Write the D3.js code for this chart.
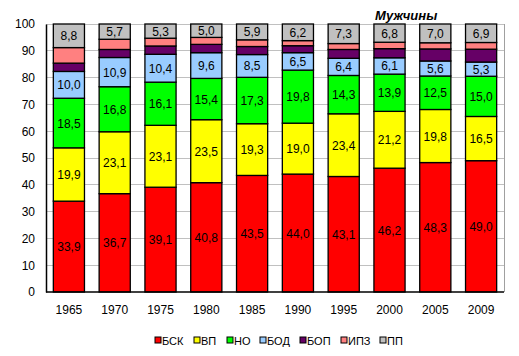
<!DOCTYPE html>
<html><head><meta charset="utf-8">
<script src="https://cdn.jsdelivr.net/npm/d3@7"></script>
<style>body{margin:0;background:#fff}svg{display:block;font-family:"Liberation Sans",Arial,sans-serif}</style>
</head><body>
<svg id="c" width="519" height="356"></svg>
<script>
const years = ["1965","1970","1975","1980","1985","1990","1995","2000","2005","2009"];
const seriesNames = ["БСК","ВП","НО","БОД","БОП","ИПЗ","ПП"];
const bsk = [33.9,36.7,39.1,40.8,43.5,44.0,43.1,46.2,48.3,49.0];
const vp  = [19.9,23.1,23.1,23.5,19.3,19.0,23.4,21.2,19.8,16.5];
const no  = [18.5,16.8,16.1,15.4,17.3,19.8,14.3,13.9,12.5,15.0];
const bod = [10.0,10.9,10.4,9.6,8.5,6.5,6.4,6.1,5.6,5.3];
const bop = [3.1,3.0,3.1,3.1,3.0,2.6,3.3,3.4,4.5,4.8];
const ipz = [5.8,3.8,2.9,2.6,2.5,1.9,2.2,2.4,2.3,2.5];
const pp  = [8.8,5.7,5.3,5.0,5.9,6.2,7.3,6.8,7.0,6.9];
const yTicks = [0,10,20,30,40,50,60,70,80,90,100];
const title = "Мужчины";
const colors = ["#FF0000","#FFFF00","#00FF00","#99CCFF","#660066","#FF8080","#C0C0C0"];
const showLabel = [true,true,true,true,false,false,true];

const values = [bsk,vp,no,bod,bop,ipz,pp];
const rows = years.map((y,i)=>{const r={year:y}; seriesNames.forEach((s,j)=>r[s]=values[j][i]); return r;});
const stack = d3.stack().keys(seriesNames)(rows);

const svg = d3.select("#c");
const L=46,R=504,T=24,B=292;
const x = d3.scaleBand().domain(years).range([L,R]).paddingInner(0.32).paddingOuter(0.16);
const y = d3.scaleLinear().domain([0,100]).range([B,T]);

// gridlines
svg.append("g").selectAll("line").data(yTicks.slice(1)).join("line")
  .attr("x1",L).attr("x2",R).attr("y1",d=>y(d)).attr("y2",d=>y(d))
  .attr("stroke","#c0c0c0").attr("stroke-width",1).attr("shape-rendering","crispEdges");
// right border
svg.append("line").attr("x1",R).attr("x2",R).attr("y1",T).attr("y2",B)
  .attr("stroke","#a0a0a0").attr("shape-rendering","crispEdges");

// bars
const g = svg.append("g");
stack.forEach((layer,li)=>{
  g.append("g").selectAll("rect").data(layer).join("rect")
    .attr("x",d=>x(d.data.year)).attr("width",x.bandwidth())
    .attr("y",d=>y(d[1])).attr("height",d=>y(d[0])-y(d[1]))
    .attr("fill",colors[li]).attr("stroke","#000").attr("stroke-width",1.3);
});
stack.forEach((layer,li)=>{
  if(!showLabel[li]) return;
  g.append("g").selectAll("text").data(layer).join("text")
    .attr("x",d=>x(d.data.year)+x.bandwidth()/2)
    .attr("y",d=>(y(d[0])+y(d[1]))/2+4.5)
    .attr("text-anchor","middle").attr("font-size",12).attr("fill","#000")
    .text(d=>d3.format(".1f")(d[1]-d[0]).replace(".",","));
});

// axes
const ya = d3.axisLeft(y).tickValues(yTicks).tickSize(0).tickPadding(11);
const yg = svg.append("g").attr("transform",`translate(${L},0)`).call(ya);
yg.select(".domain").attr("stroke","#000").attr("stroke-width",1.5);
yg.selectAll("text").attr("font-size",12).attr("font-family","Liberation Sans, Arial, sans-serif").attr("fill","#000");
const xa = d3.axisBottom(x).tickSize(0).tickPadding(13);
const xg = svg.append("g").attr("transform",`translate(0,${B})`).call(xa);
xg.select(".domain").attr("stroke","#000").attr("stroke-width",1.5).attr("d",`M${L},0H${R}`);
xg.selectAll("text").attr("font-size",12).attr("font-family","Liberation Sans, Arial, sans-serif").attr("fill","#000");

// title
svg.append("text").attr("x",375).attr("y",20).attr("font-size",13).attr("font-weight","bold")
  .attr("font-style","italic").text(title);

// legend
const lx = [155,194,227,260,300,341,380];
const lg = svg.append("g");
seriesNames.forEach((s,i)=>{
  lg.append("rect").attr("x",lx[i]).attr("y",337).attr("width",6).attr("height",6)
    .attr("fill",colors[i]).attr("stroke","#000").attr("stroke-width",1);
  lg.append("text").attr("x",lx[i]+7).attr("y",344.5).attr("font-size",11).text(s);
});
</script>
</body></html>
